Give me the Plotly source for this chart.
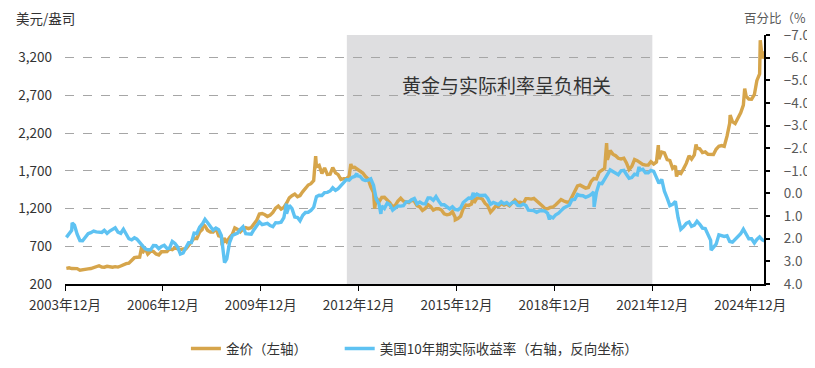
import pandas as pd
import plotly.graph_objects as go

# ---------------- data ----------------
month_start = "2003-12-15"

gold_monthly = [
    407,
    414, 405, 406, 404, 384, 392, 398, 400, 405, 420, 439, 442,
    424, 423, 434, 429, 422, 430, 424, 438, 456, 470, 476, 510,
    549, 555, 557, 610, 676, 596, 633, 632, 598, 585, 627, 629,
    631, 665, 655, 679, 667, 655, 665, 665, 712, 754, 806, 803,
    889, 922, 968, 909, 888, 889, 939, 839, 829, 806, 760, 816,
    858, 943, 924, 890, 928, 946, 934, 949, 996, 1043, 1127, 1134,
    1118, 1095, 1113, 1148, 1205, 1233, 1193, 1215, 1271, 1342, 1370, 1391,
    1356, 1372, 1424, 1474, 1512, 1529, 1572, 1756, 1772, 1665, 1739, 1652,
    1656, 1742, 1673, 1650, 1585, 1596, 1594, 1630, 1744, 1747, 1721, 1688,
    1671, 1627, 1593, 1487, 1414, 1343, 1286, 1347, 1349, 1316, 1275, 1221,
    1244, 1300, 1336, 1299, 1287, 1279, 1311, 1296, 1239, 1222, 1176, 1201,
    1251, 1227, 1179, 1198, 1199, 1181, 1131, 1117, 1125, 1159, 1086, 1068,
    1097, 1200, 1246, 1242, 1260, 1276, 1337, 1341, 1326, 1267, 1236, 1152,
    1192, 1234, 1231, 1266, 1246, 1260, 1236, 1283, 1315, 1280, 1283, 1265,
    1331, 1331, 1325, 1335, 1303, 1282, 1238, 1202, 1198, 1215, 1221, 1250,
    1291, 1320, 1300, 1286, 1284, 1359, 1413, 1500, 1510, 1495, 1471, 1480,
    1560, 1597, 1592, 1683, 1715, 1732, 1846, 1968, 1921, 1900, 1866, 1858,
    1867, 1808, 1718, 1760, 1850, 1834, 1807, 1785, 1775, 1777, 1821, 1790,
    1817, 1856, 1948, 1937, 1849, 1837, 1733, 1765, 1681, 1664, 1726, 1798,
    1898, 1855, 1912, 1999, 1992, 1942, 1951, 1918, 1916, 1916, 1985, 2026,
    2034, 2023, 2159, 2331, 2351, 2326, 2398, 2470, 2571, 2690, 2651, 2648,
    2709, 2895, 2983, 3190, 3280,
]
gold_extra_dates = ["2006-05-12", "2008-03-17", "2008-10-24", "2011-09-06", "2012-10-04",
                    "2013-06-28", "2015-12-17", "2016-07-06", "2020-08-06", "2022-03-08",
                    "2022-09-28", "2023-05-04", "2024-05-20", "2024-10-30", "2025-04-22"]
gold_extra_values = [720, 1000, 712, 1895, 1790, 1200, 1050, 1366, 2067, 2040,
                     1625, 2050, 2440, 2790, 3430]

yield_monthly = [
    1.94,
    1.78, 1.63, 1.40, 1.80, 2.08, 2.09, 1.94, 1.78, 1.73, 1.66, 1.70, 1.70,
    1.72, 1.63, 1.76, 1.66, 1.59, 1.52, 1.71, 1.76, 1.58, 1.81, 2.00, 2.05,
    1.96, 2.02, 2.18, 2.35, 2.45, 2.49, 2.49, 2.30, 2.31, 2.44, 2.34, 2.29,
    2.43, 2.42, 2.12, 2.21, 2.37, 2.68, 2.63, 2.39, 2.17, 2.17, 1.75, 1.77,
    1.49, 1.36, 1.14, 1.29, 1.43, 1.62, 1.53, 1.60, 1.86, 2.75, 2.89, 2.17,
    1.86, 1.80, 1.75, 1.59, 1.47, 1.78, 1.79, 1.80, 1.60, 1.42, 1.26, 1.38,
    1.36, 1.32, 1.42, 1.47, 1.29, 1.30, 1.27, 1.07, 0.90, 0.53, 0.67, 1.04,
    1.06, 1.21, 0.96, 0.84, 0.83, 0.75, 0.61, 0.14, 0.08, 0.09, -0.04, -0.05,
    -0.11, -0.25, -0.14, -0.21, -0.34, -0.50, -0.61, -0.59, -0.71, -0.75, -0.78, -0.76,
    -0.61, -0.57, -0.59, -0.65, -0.36, 0.25, 0.46, 0.55, 0.66, 0.43, 0.50, 0.74,
    0.63, 0.55, 0.56, 0.54, 0.37, 0.37, 0.28, 0.22, 0.46, 0.38, 0.45, 0.46,
    0.20, 0.20, 0.30, 0.14, 0.34, 0.50, 0.50, 0.58, 0.68, 0.59, 0.71, 0.73,
    0.64, 0.40, 0.28, 0.20, 0.21, 0.13, 0.03, 0.09, 0.10, 0.08, 0.22, 0.48,
    0.40, 0.44, 0.49, 0.37, 0.46, 0.40, 0.51, 0.40, 0.38, 0.53, 0.54, 0.47,
    0.53, 0.74, 0.75, 0.76, 0.83, 0.77, 0.76, 0.78, 0.87, 1.02, 1.08, 0.94,
    0.87, 0.76, 0.64, 0.58, 0.52, 0.28, 0.26, 0.04, 0.09, 0.10, 0.17, 0.12,
    0.05, -0.06, -0.06, -0.45, -0.43, -0.63, -0.84, -1.04, -0.97, -0.91, -0.83, -1.00,
    -1.02, -0.85, -0.67, -0.70, -0.85, -0.82, -1.03, -1.07, -0.91, -0.91, -1.02, -0.98,
    -0.70, -0.45, -0.62, -0.10, 0.21, 0.54, 0.48, 0.35, 1.07, 1.58, 1.47, 1.32,
    1.26, 1.45, 1.40, 1.23, 1.36, 1.53, 1.55, 1.84, 2.07, 2.40, 2.24, 1.83,
    1.85, 1.90, 1.87, 2.12, 2.15, 2.02, 1.94, 1.78, 1.58, 1.79, 2.00, 2.00,
    2.19, 2.03, 1.92, 2.05, 2.10,
]
yield_extra_dates = ["2004-03-20", "2008-11-20", "2010-10-15", "2012-12-10", "2013-09-05",
                     "2016-07-06", "2018-11-05", "2020-03-19", "2021-08-04", "2023-10-20"]
yield_extra_values = [1.30, 3.05, 0.45, -0.88, 0.90, -0.03, 1.15, 0.60, -1.17, 2.50]

tick_dates = ["2003-12-31", "2006-12-31", "2009-12-31", "2012-12-31",
              "2015-12-31", "2018-12-31", "2021-12-31", "2024-12-31"]
tick_labels = ["2003年12月", "2006年12月", "2009年12月", "2012年12月",
               "2015年12月", "2018年12月", "2021年12月", "2024年12月"]
left_ticks = [200, 700, 1200, 1700, 2200, 2700, 3200]
right_ticks = [-7, -6, -5, -4, -3, -2, -1, 0, 1, 2, 3, 4]
shade_period = ["2012-08-20", "2021-12-31"]


def build(monthly, extra_dates, extra_values):
    d = pd.date_range(month_start, periods=len(monthly), freq="MS") + pd.Timedelta(days=14)
    s = pd.Series(monthly, index=d)
    e = pd.Series(extra_values, index=pd.to_datetime(extra_dates))
    return pd.concat([s, e]).sort_index()


gold = build(gold_monthly, gold_extra_dates, gold_extra_values)
ryield = build(yield_monthly, yield_extra_dates, yield_extra_values)

FONT = "Noto Sans CJK SC, Microsoft YaHei, sans-serif"
GOLD = "#D6A54B"
BLUE = "#5EC2F2"
FS = 13.5

fig = go.Figure()
fig.add_trace(go.Scatter(x=gold.index, y=gold.values, name="金价（左轴）",
                         mode="lines", line=dict(color=GOLD, width=3.4),
                         legend="legend", showlegend=True))
fig.add_trace(go.Scatter(x=ryield.index, y=ryield.values, name="美国10年期实际收益率（右轴，反向坐标）",
                         mode="lines", line=dict(color=BLUE, width=3.4), yaxis="y2",
                         legend="legend2", showlegend=True))

fig.add_shape(type="rect", xref="x", yref="paper", x0=shade_period[0], x1=shade_period[1],
              y0=0, y1=1, fillcolor="#DEDEE0", line=dict(width=0), layer="below")

legend_style = dict(orientation="h", xanchor="left", y=-0.26, yanchor="middle",
                    font=dict(size=FS, color="#333333"), bgcolor="rgba(0,0,0,0)")

# the page adds an 8px body margin, so the figure is 8px smaller and margins shifted
fig.update_layout(
    width=807, height=360, showlegend=True,
    margin=dict(l=57, r=51, t=27, b=84, autoexpand=False),
    paper_bgcolor="white", plot_bgcolor="white",
    font=dict(family=FONT, size=FS, color="#404040"),
    xaxis=dict(
        type="date", range=["2003-12-31", "2025-06-03"], automargin=False,
        tickvals=tick_dates, ticktext=tick_labels,
        showgrid=False, showline=True, linecolor="#000000", linewidth=1.5,
        ticks="outside", ticklen=5, tickcolor="#000000", tickwidth=1,
        ticklabelstandoff=3,
        tickfont=dict(size=FS, color="#333333"), zeroline=False,
    ),
    yaxis=dict(
        range=[200, 3500], tickvals=left_ticks, tickformat=",d", automargin=False,
        showgrid=True, gridcolor="#A6A6A6", griddash="dash", gridwidth=1.3,
        showline=False, zeroline=False, ticks="", ticklabelstandoff=12,
        tickfont=dict(size=FS, color="#333333"),
    ),
    yaxis2=dict(
        overlaying="y", side="right", range=[4, -7], tickvals=right_ticks,
        tickformat=".1f", showgrid=False, zeroline=False, automargin=False,
        showline=True, linecolor="#000000", linewidth=2,
        ticks="outside", ticklen=4, tickcolor="#000000", tickwidth=1.5,
        ticklabelstandoff=11,
        tickfont=dict(size=FS, color="#595959"),
    ),
    legend=dict(x=0.173, **legend_style),
    legend2=dict(x=0.393, **legend_style),
    annotations=[
        dict(text="黄金与实际利率呈负相关", xref="paper", yref="paper", x=0.632, y=0.80,
             xanchor="center", yanchor="middle", showarrow=False,
             font=dict(size=19, color="#333333")),
        dict(text="美元/盎司", xref="paper", yref="paper", x=-0.073, y=1.07,
             xanchor="left", yanchor="middle", showarrow=False,
             font=dict(size=FS, color="#333333")),
        dict(text="百分比（%", xref="paper", yref="paper", x=1.062, y=1.072,
             xanchor="right", yanchor="middle", showarrow=False, borderpad=0,
             font=dict(size=12.5, color="#595959")),
    ],
)

fig.write_html("out.html")
